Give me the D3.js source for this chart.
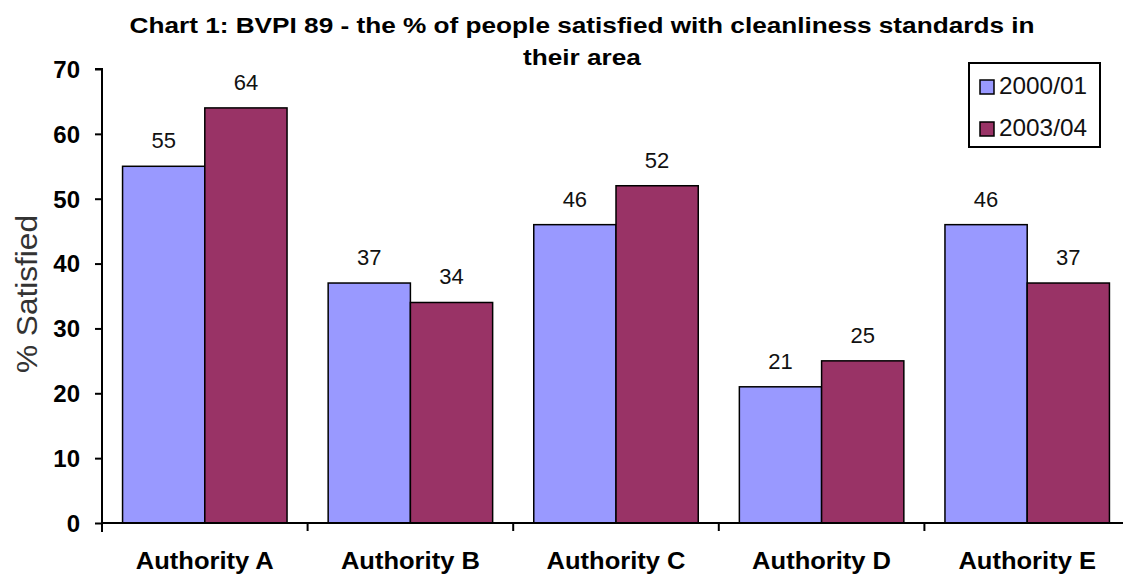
<!DOCTYPE html>
<html>
<head>
<meta charset="utf-8">
<script src="https://cdn.jsdelivr.net/npm/d3@7"></script>
<style>
  body { margin: 0; background: #fff; }
  svg { display: block; }
  .bold { font-family: "Liberation Sans", Arial, sans-serif; font-weight: bold; }
  .reg { font-family: "Liberation Sans", Arial, sans-serif; }
</style>
</head>
<body>
<svg id="chart" width="1123" height="575"></svg>
<script>
const categories = ["Authority A", "Authority B", "Authority C", "Authority D", "Authority E"];
const seriesNames = ["2000/01", "2003/04"];
const values2000 = [55, 37, 46, 21, 46];
const values2003 = [64, 34, 52, 25, 37];
const yTicks = [0, 10, 20, 30, 40, 50, 60, 70];
const colors = ["#9999FF", "#993366"];

const svg = d3.select("#chart");

// zona del grafico
const plot = { left: 102, right: 1130, top: 69, bottom: 523 };

const y = d3.scaleLinear().domain([0, 70]).range([plot.bottom, plot.top]);
const x0 = d3.scaleBand().domain(categories).range([plot.left, plot.right]).paddingInner(0.2).paddingOuter(0.1);
const x1 = d3.scaleBand().domain(seriesNames).range([0, x0.bandwidth()]);

const data = categories.map((c, i) => ({ name: c, vals: [values2000[i], values2003[i]] }));

// titolo (stirato per avvicinarsi alla larghezza originale)
const t1 = svg.append("text").attr("class", "bold")
  .attr("x", 582).attr("y", 33).attr("text-anchor", "middle")
  .style("font-size", "22px")
  .text("Chart 1: BVPI 89 - the % of people satisfied with cleanliness standards in");
const t2 = svg.append("text").attr("class", "bold")
  .attr("x", 582).attr("y", 65).attr("text-anchor", "middle")
  .style("font-size", "22px")
  .text("their area");
const kTitle = 905 / t1.node().getComputedTextLength();
t1.attr("textLength", 905).attr("lengthAdjust", "spacingAndGlyphs");
t2.attr("textLength", t2.node().getComputedTextLength() * kTitle).attr("lengthAdjust", "spacingAndGlyphs");

// barre
const groups = svg.selectAll(".grp").data(data).join("g")
  .attr("class", "grp")
  .attr("transform", d => `translate(${x0(d.name)},0)`);

groups.selectAll("rect").data(d => d.vals.map((v, i) => ({ s: seriesNames[i], v, i })))
  .join("rect")
  .attr("x", d => x1(d.s))
  .attr("y", d => y(d.v))
  .attr("width", x1.bandwidth())
  .attr("height", d => y(0) - y(d.v))
  .attr("fill", d => colors[d.i])
  .attr("stroke", "#000").attr("stroke-width", 1.5);

groups.selectAll("text").data(d => d.vals.map((v, i) => ({ s: seriesNames[i], v, i })))
  .join("text").attr("class", "reg")
  .attr("x", d => x1(d.s) + x1.bandwidth() / 2)
  .attr("y", d => y(d.v) - 18)
  .attr("text-anchor", "middle")
  .style("font-size", "22px").attr("fill", "#111")
  .text(d => d.v);

// asse y
const yAxis = svg.append("g").attr("transform", `translate(${plot.left},0)`)
  .call(d3.axisLeft(y).tickValues(yTicks).tickSize(7).tickPadding(15));
yAxis.select(".domain").attr("d", `M-7,${plot.top}H0V${plot.bottom + 9}`).attr("stroke-width", 2);
yAxis.selectAll(".tick line").attr("stroke-width", 2);
yAxis.selectAll("text").attr("class", "bold").attr("dy", "0.35em")
  .style("font-size", "24px").attr("fill", "#000");

// asse x
const bounds = categories.map(c => x0(c) - x0.step() * x0.paddingInner() / 2);
const xAxis = svg.append("g");
xAxis.append("line").attr("x1", plot.left).attr("x2", 1123).attr("y1", plot.bottom).attr("y2", plot.bottom)
  .attr("stroke", "#000").attr("stroke-width", 2);
xAxis.selectAll(".xt").data(bounds.slice(1)).join("line")
  .attr("x1", d => d).attr("x2", d => d).attr("y1", plot.bottom).attr("y2", plot.bottom + 8)
  .attr("stroke", "#000").attr("stroke-width", 2);
const xl = xAxis.selectAll(".xl").data(categories).join("text").attr("class", "bold")
  .attr("x", d => x0(d) + x0.bandwidth() / 2).attr("y", 569)
  .attr("text-anchor", "middle").style("font-size", "23px")
  .text(d => d);
const kCat = 138 / xl.node().getComputedTextLength();
xl.each(function () {
  d3.select(this).attr("textLength", this.getComputedTextLength() * kCat).attr("lengthAdjust", "spacingAndGlyphs");
});

// etichetta asse y
svg.append("text").attr("class", "reg")
  .attr("transform", `translate(37,294) rotate(-90)`)
  .attr("text-anchor", "middle").style("font-size", "29px").attr("fill", "#333")
  .attr("textLength", 158).attr("lengthAdjust", "spacingAndGlyphs")
  .text("% Satisfied");

// legenda
const lg = svg.append("g").attr("transform", "translate(969,63)");
lg.append("rect").attr("width", 131).attr("height", 84).attr("fill", "#fff")
  .attr("stroke", "#000").attr("stroke-width", 2);
seriesNames.forEach((s, i) => {
  const row = lg.append("g").attr("transform", `translate(0,${24 + i * 42})`);
  row.append("rect").attr("x", 11).attr("y", -7).attr("width", 14).attr("height", 14)
    .attr("fill", colors[i]).attr("stroke", "#000").attr("stroke-width", 1.5);
  row.append("text").attr("class", "reg").attr("x", 30).attr("y", 7)
    .style("font-size", "24px").attr("fill", "#111")
    .attr("textLength", 88).attr("lengthAdjust", "spacingAndGlyphs").text(s);
});
</script>
</body>
</html>
